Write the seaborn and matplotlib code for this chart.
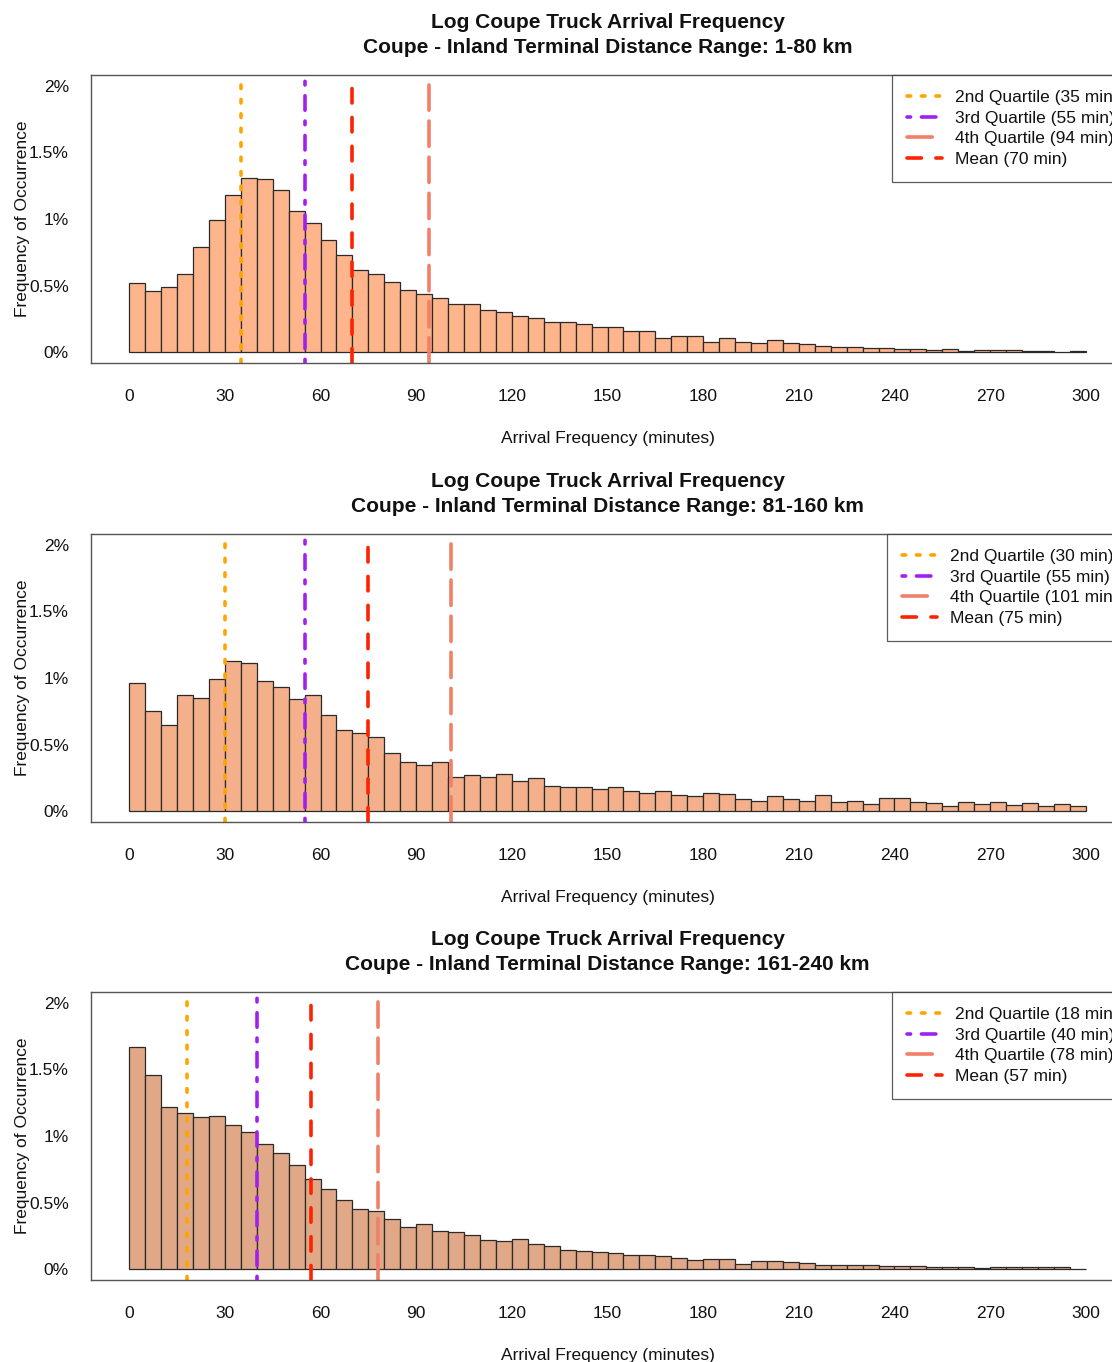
import numpy as np
import pandas as pd
import matplotlib
matplotlib.use("Agg")
import matplotlib.pyplot as plt
import seaborn as sns

# bin edges: 5-minute bins from 0 to 300
bin_edges = np.arange(0, 305, 5)
bin_mids = bin_edges[:-1] + 2.5

# percent of arrivals per bin
freq_1_80 = [0.52, 0.46, 0.49, 0.59, 0.79, 0.99, 1.18, 1.31, 1.30, 1.22,
             1.06, 0.97, 0.84, 0.73, 0.62, 0.59, 0.53, 0.47, 0.44, 0.41,
             0.36, 0.36, 0.32, 0.30, 0.27, 0.26, 0.23, 0.23, 0.21, 0.19,
             0.19, 0.16, 0.16, 0.11, 0.12, 0.12, 0.08, 0.11, 0.08, 0.07,
             0.09, 0.07, 0.06, 0.045, 0.037, 0.037, 0.03, 0.03, 0.022, 0.022,
             0.015, 0.022, 0.012, 0.015, 0.015, 0.015, 0.009, 0.009, 0.006, 0.01]
freq_81_160 = [0.96, 0.75, 0.65, 0.87, 0.85, 0.99, 1.13, 1.11, 0.98, 0.93,
               0.84, 0.87, 0.72, 0.61, 0.59, 0.56, 0.44, 0.37, 0.35, 0.37,
               0.26, 0.27, 0.26, 0.28, 0.23, 0.25, 0.19, 0.18, 0.18, 0.17,
               0.18, 0.15, 0.14, 0.15, 0.12, 0.115, 0.14, 0.13, 0.09, 0.08,
               0.115, 0.095, 0.08, 0.12, 0.07, 0.075, 0.055, 0.10, 0.10, 0.07,
               0.063, 0.043, 0.073, 0.055, 0.068, 0.048, 0.063, 0.043, 0.055, 0.038]
freq_161_240 = [1.67, 1.46, 1.22, 1.17, 1.14, 1.15, 1.08, 1.03, 0.94, 0.87,
                0.78, 0.68, 0.60, 0.52, 0.45, 0.44, 0.38, 0.32, 0.34, 0.29,
                0.28, 0.26, 0.22, 0.21, 0.23, 0.19, 0.175, 0.145, 0.135, 0.128,
                0.125, 0.11, 0.11, 0.098, 0.088, 0.073, 0.08, 0.08, 0.043, 0.065,
                0.063, 0.058, 0.05, 0.035, 0.035, 0.035, 0.033, 0.023, 0.028, 0.025,
                0.02, 0.018, 0.015, 0.013, 0.018, 0.02, 0.015, 0.015, 0.015, 0.004]

ranges = ["1-80", "81-160", "161-240"]
freqs = [freq_1_80, freq_81_160, freq_161_240]
fill_colors = ["#FFB58B", "#F4B08A", "#E0A886"]

q2 = [35, 30, 18]
q3 = [55, 55, 40]
q4 = [94, 101, 78]
means = [70, 75, 57]

x_ticks = list(range(0, 301, 30))
y_ticks = [0, 0.5, 1, 1.5, 2]
y_tick_labels = ["0%", "0.5%", "1%", "1.5%", "2%"]

sns.set_style("white")
plt.rcParams["font.family"] = ["Liberation Sans", "DejaVu Sans"]

W, H = 1112, 1362
fig = plt.figure(figsize=(W / 100, H / 100), dpi=100)

ax_left = 91 / W
ax_width = (1124 - 91) / W
ax_height = 288 / H
tops = [75, 534, 992]

lw = 2.6
for i in range(3):
    bottom = 1 - (tops[i] + 288) / H
    ax = fig.add_axes([ax_left, bottom, ax_width, ax_height])

    df = pd.DataFrame({"minutes": bin_mids, "pct": freqs[i]})
    sns.histplot(data=df, x="minutes", weights="pct", bins=list(bin_edges),
                 ax=ax, color=fill_colors[i], alpha=1, edgecolor="#2a2a2a", linewidth=0.9)

    ax.axvline(q2[i], color="#FFA500", lw=lw, ls=(0, (1, 3)), dash_capstyle="round",
               label=f"2nd Quartile ({q2[i]} min)")
    ax.axvline(q3[i], color="#A020F0", lw=lw, ls=(0, (1, 3, 4, 3)), dash_capstyle="round",
               label=f"3rd Quartile ({q3[i]} min)")
    ax.axvline(q4[i], color="#F08068", lw=lw, ls=(0, (7, 3)), dash_capstyle="round",
               label=f"4th Quartile ({q4[i]} min)")
    ax.axvline(means[i], color="#FF2200", lw=lw, ls=(0, (4, 4)), dash_capstyle="round",
               label=f"Mean ({means[i]} min)")

    ax.set_xlim(-12, 312)
    ax.set_ylim(-0.08, 2.08)
    ax.set_xticks(x_ticks)
    ax.set_yticks(y_ticks)
    ax.set_yticklabels(y_tick_labels)
    ax.tick_params(axis="both", direction="out", length=7, width=0.9,
                   color="#333333", labelsize=12.5, labelcolor="#111111")
    ax.tick_params(axis="x", pad=12)
    ax.tick_params(axis="y", pad=9)
    for s in ax.spines.values():
        s.set_color("#555555")
        s.set_linewidth(1.0)

    ax.set_title("Log Coupe Truck Arrival Frequency\n"
                 f"Coupe - Inland Terminal Distance Range: {ranges[i]} km",
                 fontsize=15, fontweight="bold", pad=16, linespacing=1.38,
                 color="#111111")
    ax.set_xlabel("Arrival Frequency (minutes)", fontsize=12.5, labelpad=19,
                  color="#111111")
    ax.set_ylabel("Frequency of Occurrence", fontsize=12.5, labelpad=-1,
                  color="#111111")

    # legend's right side runs off the figure, as in the original
    leg = ax.legend(loc="upper right", bbox_to_anchor=(1 + 9 / 1033, 1), borderaxespad=0,
                    fontsize=12.5, frameon=True, fancybox=False, handlelength=2.0,
                    handletextpad=0.75, labelspacing=0.32, borderpad=0.85)
    leg.get_frame().set_edgecolor("#333333")
    leg.get_frame().set_linewidth(0.9)
    for t in leg.get_texts():
        t.set_color("#111111")

plt.savefig("out.png", dpi=100)
